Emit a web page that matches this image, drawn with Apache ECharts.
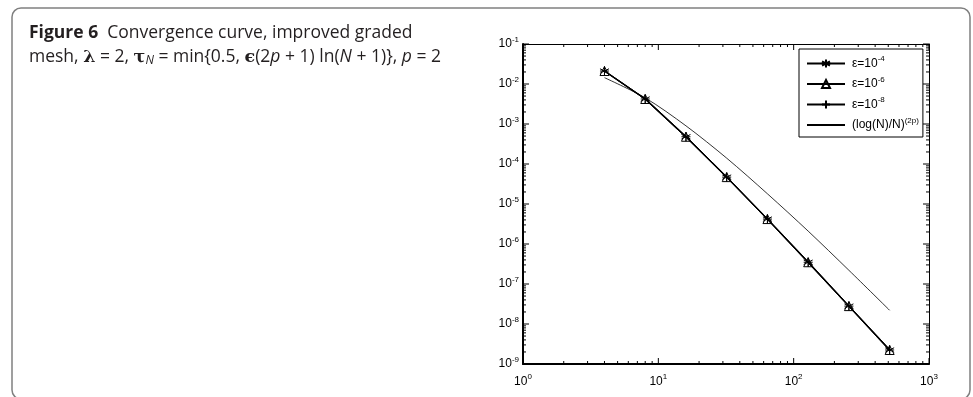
<!DOCTYPE html>
<html>
<head>
<meta charset="utf-8">
<script src="https://cdn.jsdelivr.net/npm/echarts@6/dist/echarts.min.js"></script>
<style>
  html, body { margin: 0; padding: 0; background: #fff; }
  #chart { width: 973px; height: 397px; }
</style>
</head>
<body>
<div id="chart"></div>
<script>
  // mesh sizes N
  var nValues = [4, 8, 16, 32, 64, 128, 256, 512]
  // max errors
  var errEps4 = [0.0211, 0.00422, 4.8e-4, 4.7e-5, 4.2e-6, 3.5e-7, 2.8e-8, 2.24e-9]
  var errEps6 = [0.0211, 0.00422, 4.8e-4, 4.7e-5, 4.2e-6, 3.5e-7, 2.8e-8, 2.24e-9]
  var errEps8 = [0.0211, 0.00422, 4.8e-4, 4.7e-5, 4.2e-6, 3.5e-7, 2.8e-8, 2.24e-9]
  // reference curve (log(N)/N)^(2p)
  var refRate = [0.0144, 0.0045, 9.0e-4, 1.4e-4, 1.8e-5, 2.1e-6, 2.2e-7, 2.2e-8]
  // decade exponents of the two axes
  var xExponents = [0, 1, 2, 3]
  var yExponents = [-9, -8, -7, -6, -5, -4, -3, -2, -1]

  var legendLabels = {
    e4: '{t|ε=10}{s|-4}',
    e6: '{t|ε=10}{s|-6}',
    e8: '{t|ε=10}{s|-8}',
    ref: '{t|(log(N)/N)}{s|(2p)}'
  }

  var font = 'Liberation Sans, Arial, Helvetica, sans-serif'
  var capFont = 'Open Sans'
  var capSize = 17.5

  function pairs (ys) {
    return nValues.map(function (n, i) { return [n, ys[i]] })
  }

  function powLabel (v) {
    var e = Math.round(Math.log(v) / Math.LN10)
    return '{b|10}{s|' + e + '}'
  }

  var labelRich = {
    b: { fontSize: 12, fontFamily: font, color: '#000' },
    s: { fontSize: 8, fontFamily: font, color: '#000', padding: [0, 0, 9, 0] }
  }

  var asterisk = 'path://M5,0L5,10M0.67,2.5L9.33,7.5M0.67,7.5L9.33,2.5'
  var plus = 'path://M5,0L5,10M0,5L10,5'

  function lineSeries (name, ys, symbol) {
    return {
      name: name,
      type: 'line',
      data: pairs(ys),
      symbol: symbol,
      symbolSize: 9,
      showSymbol: true,
      lineStyle: { color: '#000', width: 1.2 },
      itemStyle: { color: 'rgba(0,0,0,0)', borderColor: '#000', borderWidth: 1 },
      z: 3
    }
  }

  var chart = echarts.init(document.getElementById('chart'), null, { renderer: 'canvas' })

  var axisCommon = {
    type: 'log',
    logBase: 10,
    splitLine: { show: false },
    axisTick: { show: false }
  }

  chart.setOption({
    animation: false,
    backgroundColor: '#fff',
    grid: { left: 523, right: 44, top: 44, bottom: 33, containLabel: false },
    legend: {
      orient: 'vertical',
      left: 799,
      top: 49,
      width: 126,
      padding: [6, 4, 6, 7],
      itemGap: 6,
      itemWidth: 38,
      itemHeight: 10,
      backgroundColor: '#fff',
      borderColor: '#000',
      borderWidth: 1,
      borderRadius: 0,
      data: ['e4', 'e6', 'e8', {
        name: 'ref',
        itemStyle: { color: 'rgba(0,0,0,0)', borderWidth: 0 }
      }],
      formatter: function (name) { return legendLabels[name] },
      textStyle: {
        rich: {
          t: { fontSize: 12, fontFamily: font, color: '#000', padding: [0, 0, 0, 2] },
          s: { fontSize: 8, fontFamily: font, color: '#000', padding: [0, 0, 9, 0] }
        }
      }
    },
    xAxis: [
      Object.assign({}, axisCommon, {
        position: 'bottom',
        min: 1,
        max: 1000,
        axisLine: { show: true, lineStyle: { color: '#000', width: 2 } },
        axisLabel: { formatter: powLabel, rich: labelRich, margin: 9 }
      }),
      Object.assign({}, axisCommon, {
        position: 'top',
        min: 1,
        max: 1000,
        axisLine: { show: true, lineStyle: { color: '#000', width: 1 } },
        axisLabel: { show: false }
      })
    ],
    yAxis: [
      Object.assign({}, axisCommon, {
        position: 'left',
        min: 1e-9,
        max: 0.1,
        axisLine: { show: true, lineStyle: { color: '#000', width: 2 } },
        axisLabel: { formatter: powLabel, rich: labelRich, margin: 4 }
      }),
      Object.assign({}, axisCommon, {
        position: 'right',
        min: 1e-9,
        max: 0.1,
        axisLine: { show: true, lineStyle: { color: '#000', width: 1 } },
        axisLabel: { show: false }
      })
    ],
    series: [
      lineSeries('e4', errEps4, asterisk),
      lineSeries('e6', errEps6, 'triangle'),
      lineSeries('e8', errEps8, plus),
      {
        name: 'ref',
        type: 'line',
        data: pairs(refRate),
        symbol: 'none',
        smooth: 0.3,
        lineStyle: { color: '#000', width: 0.8 },
        itemStyle: { color: '#000' },
        z: 2
      }
    ]
  })

  // inward ticks on all four sides, MATLAB style (decades long, 2..9 short)
  function tickLine (p, dx, dy) {
    return {
      type: 'line',
      silent: true,
      z: 10,
      shape: { x1: p[0], y1: p[1], x2: p[0] + dx, y2: p[1] + dy },
      style: { stroke: '#000', lineWidth: 1 }
    }
  }

  var px = function (x, y) { return chart.convertToPixel({ gridIndex: 0 }, [x, y]) }
  var ticks = []
  xExponents.forEach(function (k) {
    for (var m = 1; m <= 9; m++) {
      if (k === 3 && m > 1) break
      var x = m * Math.pow(10, k)
      var len = m === 1 ? 6 : 3
      ticks.push(tickLine(px(x, 1e-9), 0, -len))
      ticks.push(tickLine(px(x, 0.1), 0, len))
    }
  })
  yExponents.forEach(function (k) {
    for (var m = 1; m <= 9; m++) {
      if (k === -1 && m > 1) break
      var y = m * Math.pow(10, k)
      var len = m === 1 ? 6 : 3
      ticks.push(tickLine(px(1, y), len, 0))
      ticks.push(tickLine(px(1000, y), -len, 0))
    }
  })

  chart.setOption({
    graphic: [
      {
        type: 'rect',
        silent: true,
        shape: { x: 12, y: 8, width: 958, height: 391, r: 9 },
        style: { fill: 'none', stroke: '#808080', lineWidth: 1.5 }
      },
      {
        type: 'text',
        silent: true,
        style: {
          x: 29,
          y: 33,
          verticalAlign: 'middle',
          text: '{b|Figure 6}  Convergence curve, improved graded',
          rich: {
            b: { fontFamily: capFont, fontWeight: 'bold', fontSize: capSize, fill: '#231f20' }
          },
          fontFamily: capFont,
          fontSize: capSize,
          fill: '#231f20'
        }
      },
      {
        type: 'text',
        silent: true,
        style: {
          x: 29,
          y: 57,
          verticalAlign: 'middle',
          text: 'mesh, {g|λ} = 2, {g|τ}{sub|N} = min{0.5, {g|ϵ}(2{i|p} + 1) ln({i|N} + 1)}, {i|p} = 2',
          rich: {
            g: { fontFamily: 'DejaVu Serif', fontWeight: 'bold', fontSize: capSize, fill: '#231f20' },
            i: { fontFamily: capFont, fontStyle: 'italic', fontSize: capSize, fill: '#231f20' },
            sub: { fontFamily: capFont, fontStyle: 'italic', fontSize: 12, fill: '#231f20', padding: [8, 0, 0, 0] }
          },
          fontFamily: capFont,
          fontSize: capSize,
          fill: '#231f20'
        }
      }
    ].concat(ticks)
  })
</script>
</body>
</html>
